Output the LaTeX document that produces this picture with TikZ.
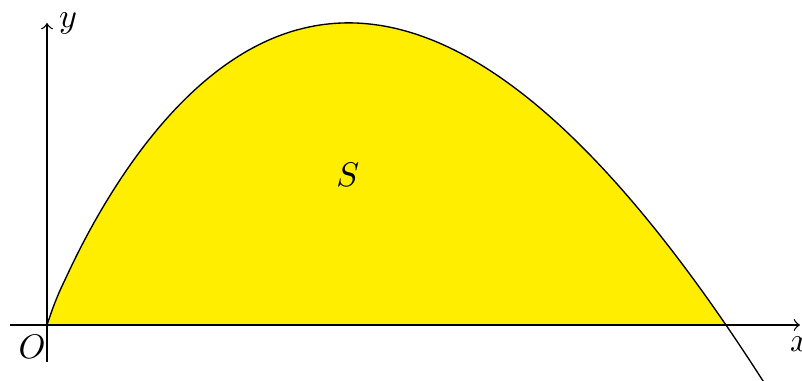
\documentclass[tikz,border=0pt]{standalone}
\usetikzlibrary{positioning}
\definecolor{areayellow}{RGB}{255,238,0}

\begin{document}
\begin{tikzpicture}[x=1cm,y=1cm,
  declare function={f(\t)=0.3186*(\t)^0.91*(7-\t)*exp(-0.0357*\t);}]
\useasboundingbox (-0.485,-0.577) rectangle (7.784,3.351);

% region S under the curve
\fill [areayellow] (0,0) -- plot[smooth,domain=0.001:7,samples=120] (\x,{f(\x)}) -- cycle;

% axes
\coordinate (xstart) at (-0.38,0);
\coordinate (xend)   at (7.763,0);
\coordinate (ystart) at (0,-0.38);
\coordinate (yend)   at (0,3.113);
\draw [->] (xstart) -- (xend);
\draw [->] (ystart) -- (yend);

% the curve
\draw [black] (0,0) -- plot[smooth,domain=0.001:7.39,samples=120] (\x,{f(\x)});

\node [below] (xlab) at (xend) {$x$};
\node [right] (ylab) at (yend) {$y$};
\node (O) at (-0.155,-0.227) {$O$};
\node (S) at (3.10,1.546) {$S$};
\end{tikzpicture}
\end{document}
